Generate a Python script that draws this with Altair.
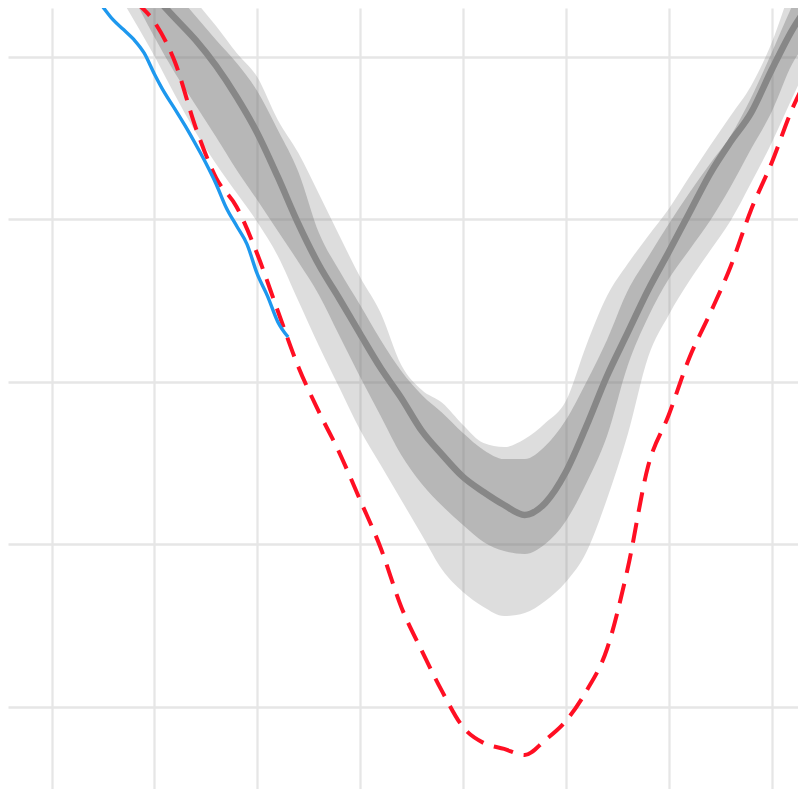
import altair as alt
import pandas as pd

# ---- data ----
band_days = [206, 208, 210, 212, 214, 216, 218, 220, 222, 224, 226, 228, 230, 232, 234, 236,
             238, 240, 242, 244, 246, 248, 250, 252, 254, 256, 258, 260, 262, 264, 266, 268,
             270, 272, 274]
p10 = [7.441, 7.226, 7.004, 6.764, 6.537, 6.340, 6.161, 5.983, 5.774, 5.497, 5.220, 4.961,
       4.703, 4.487, 4.272, 4.057, 3.841, 3.706, 3.614, 3.558, 3.577, 3.651, 3.767, 3.952,
       4.278, 4.672, 5.152, 5.411, 5.620, 5.804, 5.989, 6.223, 6.469, 6.746, 7.011]
p25 = [7.601, 7.361, 7.121, 6.900, 6.703, 6.506, 6.303, 6.118, 5.927, 5.737, 5.534, 5.281,
       5.029, 4.789, 4.549, 4.371, 4.235, 4.118, 4.014, 3.958, 3.940, 4.001, 4.143, 4.377,
       4.666, 5.097, 5.398, 5.632, 5.811, 5.989, 6.198, 6.432, 6.660, 6.955, 7.127]
median = [7.638, 7.503, 7.374, 7.238, 7.103, 6.943, 6.752, 6.531, 6.260, 5.971, 5.718, 5.509,
          5.294, 5.084, 4.900, 4.697, 4.549, 4.414, 4.321, 4.241, 4.180, 4.254, 4.444, 4.727,
          5.035, 5.300, 5.564, 5.798, 6.038, 6.278, 6.475, 6.654, 6.918, 7.164, 7.355]
p75 = [7.872, 7.706, 7.552, 7.398, 7.251, 7.103, 6.961, 6.789, 6.549, 6.291, 5.915, 5.681,
       5.472, 5.257, 5.066, 4.918, 4.807, 4.684, 4.580, 4.524, 4.524, 4.604, 4.764, 4.998,
       5.257, 5.558, 5.767, 5.971, 6.161, 6.340, 6.512, 6.746, 7.023, 7.312, 7.564]
p90 = [8.026, 7.841, 7.675, 7.509, 7.343, 7.189, 7.023, 6.875, 6.611, 6.407, 6.155, 5.897,
       5.644, 5.423, 5.103, 4.949, 4.869, 4.734, 4.623, 4.598, 4.647, 4.746, 4.881, 5.226,
       5.527, 5.724, 5.897, 6.063, 6.260, 6.451, 6.635, 6.820, 7.084, 7.435, 7.718]

red_days = [206, 208, 210, 212, 214, 216, 218, 220, 222, 224, 226, 228, 230, 232, 234, 236,
            238, 240, 242, 244, 246, 248, 250, 252, 254, 256, 258, 260, 262, 264, 266, 268,
            270, 272, 274]
red_values = [7.472, 7.349, 7.214, 6.967, 6.567, 6.254, 6.075, 5.786, 5.435, 5.091, 4.814,
              4.561, 4.272, 3.977, 3.614, 3.343, 3.091, 2.875, 2.777, 2.740, 2.703, 2.795,
              2.912, 3.097, 3.355, 3.847, 4.481, 4.795, 5.146, 5.417, 5.706, 6.057, 6.346,
              6.678, 6.931]

blue_days = [203, 204, 205, 206, 207, 208, 209, 210, 211, 212, 213, 214, 215, 216, 217, 218,
             219, 220, 221, 222, 223]
blue_values = [7.472, 7.392, 7.306, 7.226, 7.167, 7.106, 7.023, 6.894, 6.777, 6.678, 6.574,
               6.463, 6.346, 6.217, 6.069, 5.958, 5.847, 5.663, 5.527, 5.368, 5.275]

x_grid = [200, 210, 220, 230, 240, 250, 260, 270]
y_grid = [3, 4, 5, 6, 7]

bands = pd.DataFrame({"day": band_days, "p10": p10, "p25": p25, "median": median,
                      "p75": p75, "p90": p90})
red = pd.DataFrame({"day": red_days, "value": red_values})
blue = pd.DataFrame({"day": blue_days, "value": blue_values})

X_DOMAIN = [195.771, 272.567]
Y_DOMAIN = [2.4935, 7.2997]
GRID = "#e6e6e6"

xs = alt.Scale(domain=X_DOMAIN, nice=False, zero=False)
ys = alt.Scale(domain=Y_DOMAIN, nice=False, zero=False)
x_axis = alt.Axis(values=x_grid, grid=True, labels=False, ticks=False, domain=False,
                  title=None, gridColor=GRID, gridWidth=2.3)
y_axis = alt.Axis(values=y_grid, grid=True, labels=False, ticks=False, domain=False,
                  title=None, gridColor=GRID, gridWidth=2.3)


def X(field="day"):
    return alt.X(f"{field}:Q", scale=xs, axis=x_axis)


def Y(field):
    return alt.Y(f"{field}:Q", scale=ys, axis=y_axis)


outer = alt.Chart(bands).mark_area(color="#7f7f7f", opacity=0.266, clip=True,
                                   interpolate="monotone").encode(
    x=X(), y=Y("p10"), y2="p90")
inner = alt.Chart(bands).mark_area(color="#7f7f7f", opacity=0.404, clip=True,
                                   interpolate="monotone").encode(
    x=X(), y=Y("p25"), y2="p75")
med_line = alt.Chart(bands).mark_line(color="#878787", strokeWidth=6.5, clip=True,
                                      interpolate="monotone").encode(
    x=X(), y=Y("median"))
red_line = alt.Chart(red).mark_line(color="#ff0f23", strokeWidth=4, strokeDash=[20, 11],
                                    clip=True, interpolate="monotone").encode(
    x=X(), y=Y("value"))
blue_line = alt.Chart(blue).mark_line(color="#1e98ee", strokeWidth=3.4, clip=True,
                                      interpolate="monotone").encode(
    x=X(), y=Y("value"))

chart = alt.layer(outer, inner, med_line, red_line, blue_line).properties(
    width=790, height=781,
    autosize=alt.AutoSizeParams(type="none"),
    padding=0,
    background="white",
).configure_view(stroke=None)

chart.save("out.html", embed_options={"renderer": "svg", "actions": False})
